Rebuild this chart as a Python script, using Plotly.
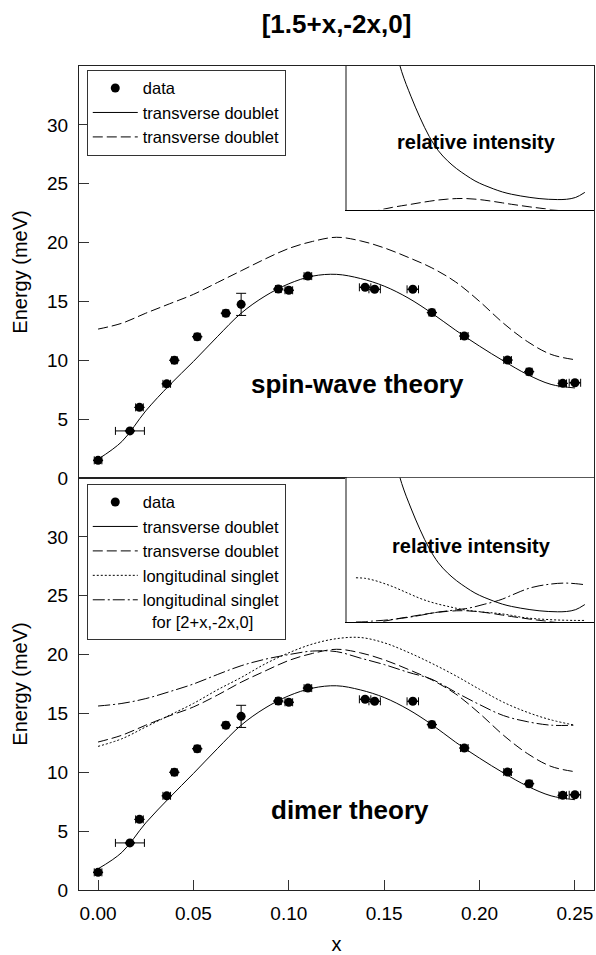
import plotly.graph_objects as go

# ---------------- data ----------------
DATA_X = [0.000, 0.0167, 0.0217, 0.036, 0.040, 0.052, 0.067, 0.075, 0.0945, 0.100,
          0.110, 0.140, 0.145, 0.165, 0.175, 0.192, 0.2147, 0.226, 0.2436, 0.250]
DATA_Y = [1.5, 4.0, 6.0, 8.0, 10.0, 12.0, 14.0, 14.75, 16.05, 15.95,
          17.15, 16.2, 16.03, 16.03, 14.05, 12.06, 10.02, 9.03, 8.04, 8.09]
DATA_XERR = [0.002, 0.0076, 0.002, 0.002, 0.0015, 0.0015, 0.0015, 0.0, 0.0015, 0.002,
             0.002, 0.003, 0.003, 0.003, 0.0015, 0.002, 0.002, 0.0015, 0.002, 0.003]
DATA_YERR = [0, 0, 0, 0, 0, 0, 0, 0.94, 0, 0,
             0, 0, 0, 0, 0, 0, 0, 0, 0, 0]

CURVE_X = [0.0, 0.0125, 0.025, 0.0375, 0.05, 0.0625, 0.075, 0.0875, 0.1, 0.1125, 0.125,
           0.1375, 0.15, 0.1625, 0.175, 0.1875, 0.2, 0.2125, 0.225, 0.2375, 0.25]

SW_SOLID = [1.6, 3.1, 5.7, 7.9, 9.9, 12.0, 14.0, 15.45, 16.5, 17.15, 17.3,
            16.95, 16.3, 15.3, 14.0, 12.55, 11.2, 9.95, 8.8, 7.95, 7.65]
SW_DASHED = [12.65, 13.15, 14.0, 14.8, 15.6, 16.6, 17.6, 18.6, 19.5, 20.1, 20.45,
             20.15, 19.55, 18.75, 17.85, 16.65, 15.0, 13.15, 11.6, 10.5, 10.05]

DM_SOLID = [1.8, 3.2, 5.7, 7.85, 9.9, 12.0, 14.0, 15.45, 16.5, 17.15, 17.35,
            17.0, 16.35, 15.35, 14.05, 12.55, 11.2, 9.95, 8.83, 8.0, 7.67]
DM_DASHED = [12.57, 13.15, 14.0, 14.8, 15.55, 16.55, 17.65, 18.6, 19.5, 20.1, 20.45,
             20.15, 19.55, 18.75, 17.85, 16.65, 15.0, 13.15, 11.6, 10.5, 10.05]
DM_DOTTED = [12.2, 12.85, 13.85, 14.85, 15.85, 17.0, 18.05, 19.2, 20.15, 20.9, 21.35,
             21.45, 21.0, 20.2, 19.25, 18.2, 17.05, 15.95, 15.1, 14.45, 14.0]
DM_DASHDOT = [15.63, 15.85, 16.26, 16.85, 17.5, 18.3, 19.05, 19.6, 20.0, 20.3, 20.25,
              19.7, 19.15, 18.5, 17.9, 16.8, 15.75, 14.82, 14.3, 14.0, 14.0]

INSET_X = [0.00, 0.01, 0.02, 0.03, 0.04, 0.05, 0.06, 0.07, 0.08, 0.09, 0.10, 0.11, 0.12,
           0.13, 0.14, 0.15, 0.16, 0.17, 0.18, 0.19, 0.20, 0.21, 0.22, 0.23, 0.24, 0.25]
INT_SOLID = [3.0, 2.4, 1.9, 1.5, 1.2, 0.96, 0.79, 0.64, 0.51, 0.41, 0.34, 0.285, 0.24,
             0.2, 0.17, 0.145, 0.123, 0.107, 0.095, 0.085, 0.077, 0.072, 0.07, 0.072, 0.085, 0.12]
INT_DASHED = [-0.04, -0.027, -0.012, 0.003, 0.016, 0.027, 0.037, 0.048, 0.058, 0.067, 0.073,
              0.077, 0.077, 0.073, 0.066, 0.057, 0.047, 0.037, 0.028, 0.019, 0.011, 0.003,
              -0.005, -0.013, -0.02, -0.027]
INT_DOTTED = [0.306, 0.302, 0.288, 0.268, 0.245, 0.218, 0.19, 0.163, 0.141, 0.123, 0.108,
              0.094, 0.082, 0.074, 0.067, 0.062, 0.055, 0.045, 0.033, 0.025, 0.02, 0.016,
              0.013, 0.011, 0.01, 0.01]
INT_DASHDOT = [0.0, 0.002, 0.006, 0.011, 0.017, 0.025, 0.034, 0.045, 0.057, 0.068, 0.076,
               0.084, 0.092, 0.105, 0.122, 0.138, 0.158, 0.185, 0.212, 0.235, 0.25, 0.26,
               0.267, 0.269, 0.265, 0.258]

Y_TICKS = [0, 5, 10, 15, 20, 25, 30]
X_TICKS = [0.0, 0.05, 0.10, 0.15, 0.20, 0.25]
X_TICKTEXT = ["0.00", "0.05", "0.10", "0.15", "0.20", "0.25"]

FONT = "Arial, Liberation Sans, sans-serif"
BLACK = "#000000"
LONG_DASH = "10px,4px"
DOTTED = "2px,2px"
DASH_DOT = "12px,3px,2px,3px"

fig = go.Figure()


def data_trace(xa, ya, legend):
    return go.Scatter(
        x=DATA_X, y=DATA_Y, mode="markers", name="data",
        marker=dict(color=BLACK, size=9),
        error_x=dict(type="data", array=DATA_XERR, color=BLACK, thickness=1, width=4),
        error_y=dict(type="data", array=DATA_YERR, color=BLACK, thickness=1, width=5),
        xaxis=xa, yaxis=ya, legend=legend)


def line_trace(x, y, dash, name, xa, ya, legend=None, show=True):
    return go.Scatter(
        x=x, y=y, mode="lines", name=name, line=dict(color=BLACK, width=1, dash=dash, shape="spline"),
        xaxis=xa, yaxis=ya, legend=legend if legend else "legend", showlegend=show)


# top panel (spin-wave)
fig.add_trace(data_trace("x", "y", "legend"))
fig.add_trace(line_trace(CURVE_X, SW_SOLID, "solid", "transverse doublet", "x", "y", "legend"))
fig.add_trace(line_trace(CURVE_X, SW_DASHED, LONG_DASH, "transverse doublet", "x", "y", "legend"))

# bottom panel (dimer)
fig.add_trace(data_trace("x2", "y2", "legend2"))
fig.add_trace(line_trace(CURVE_X, DM_SOLID, "solid", "transverse doublet", "x2", "y2", "legend2"))
fig.add_trace(line_trace(CURVE_X, DM_DASHED, LONG_DASH, "transverse doublet", "x2", "y2", "legend2"))
fig.add_trace(line_trace(CURVE_X, DM_DOTTED, DOTTED, "longitudinal singlet", "x2", "y2", "legend2"))
fig.add_trace(line_trace(CURVE_X, DM_DASHDOT, DASH_DOT,
                         "longitudinal singlet<br>\u00a0\u00a0for [2+x,-2x,0]", "x2", "y2", "legend2"))

# insets
fig.add_trace(line_trace(INSET_X, INT_SOLID, "solid", "", "x3", "y3", show=False))
fig.add_trace(line_trace(INSET_X, INT_DASHED, LONG_DASH, "", "x3", "y3", show=False))
fig.add_trace(line_trace(INSET_X, INT_SOLID, "solid", "", "x4", "y4", show=False))
fig.add_trace(line_trace(INSET_X, INT_DASHED, LONG_DASH, "", "x4", "y4", show=False))
fig.add_trace(line_trace(INSET_X, INT_DOTTED, DOTTED, "", "x4", "y4", show=False))
fig.add_trace(line_trace(INSET_X, INT_DASHDOT, DASH_DOT, "", "x4", "y4", show=False))

AX = dict(showgrid=False, zeroline=False, showline=True, linecolor="#222222", linewidth=1,
          mirror=True, tickfont=dict(family=FONT, size=19, color=BLACK))
INSET_X_AX = dict(range=[-0.01, 0.26], domain=[0.52, 1.0], showgrid=False, zeroline=False,
                  showline=True, linecolor=BLACK, linewidth=1, ticks="", showticklabels=False)
INSET_Y_AX = dict(range=[0, 1], showgrid=False, zeroline=False, showline=True,
                  linecolor="#888888", linewidth=2, ticks="", showticklabels=False)

legend_common = dict(
    bgcolor="white", bordercolor="#333333", borderwidth=1,
    font=dict(family=FONT, size=16.5, color=BLACK), xanchor="left", yanchor="top",
    tracegroupgap=0, itemwidth=45, valign="top", itemclick=False)

fig.update_layout(
    width=596, height=955,
    margin=dict(l=79, r=2, t=66, b=65),
    paper_bgcolor="white", plot_bgcolor="white",
    font=dict(family=FONT, color=BLACK),
    title=dict(text="<b>[1.5+x,-2x,0]</b>", x=0.5, xref="paper", xanchor="center",
               y=1 - 24 / 955, yanchor="middle", font=dict(family=FONT, size=26, color=BLACK)),
    xaxis=dict(AX, range=[-0.01, 0.26], anchor="y", domain=[0, 1], ticks="", showticklabels=False),
    yaxis=dict(AX, range=[0, 35], domain=[0.5, 1.0], anchor="x", tickvals=Y_TICKS,
               ticks="inside", ticklen=10, tickcolor="#333333", ticklabelstandoff=6,
               title=dict(text="Energy (meV)", standoff=14, font=dict(family=FONT, size=20, color=BLACK))),
    xaxis2=dict(AX, range=[-0.01, 0.26], anchor="y2", domain=[0, 1], tickvals=X_TICKS,
                ticktext=X_TICKTEXT, ticks="inside", ticklen=10, tickcolor="#333333",
                ticklabelstandoff=6,
                title=dict(text="x", standoff=16, font=dict(family=FONT, size=20, color=BLACK))),
    yaxis2=dict(AX, range=[0, 35], domain=[0.0, 0.5], anchor="x2", tickvals=Y_TICKS,
                ticks="inside", ticklen=10, tickcolor="#333333", ticklabelstandoff=6,
                title=dict(text="Energy (meV)", standoff=14, font=dict(family=FONT, size=20, color=BLACK))),
    xaxis3=dict(INSET_X_AX, anchor="y3"),
    yaxis3=dict(INSET_Y_AX, domain=[0.8257, 1.0], anchor="x3"),
    xaxis4=dict(INSET_X_AX, anchor="y4"),
    yaxis4=dict(INSET_Y_AX, domain=[0.3254, 0.5003], anchor="x4"),
    legend=dict(legend_common, x=0.0151, y=0.9954),
    legend2=dict(legend_common, x=0.0151, y=0.493),
    annotations=[
        dict(text="<b>spin-wave theory</b>", x=0.136, y=8.0, xref="x", yref="y", showarrow=False,
             font=dict(family=FONT, size=26, color=BLACK)),
        dict(text="<b>dimer theory</b>", x=0.132, y=6.76, xref="x2", yref="y2", showarrow=False,
             font=dict(family=FONT, size=26, color=BLACK)),
        dict(text="<b>relative intensity</b>", x=0.132, y=0.469, xref="x3", yref="y3", showarrow=False,
             font=dict(family=FONT, size=20, color=BLACK)),
        dict(text="<b>relative intensity</b>", x=0.1257, y=0.528, xref="x4", yref="y4", showarrow=False,
             font=dict(family=FONT, size=20, color=BLACK)),
    ],
)

fig.write_html("out.html")
